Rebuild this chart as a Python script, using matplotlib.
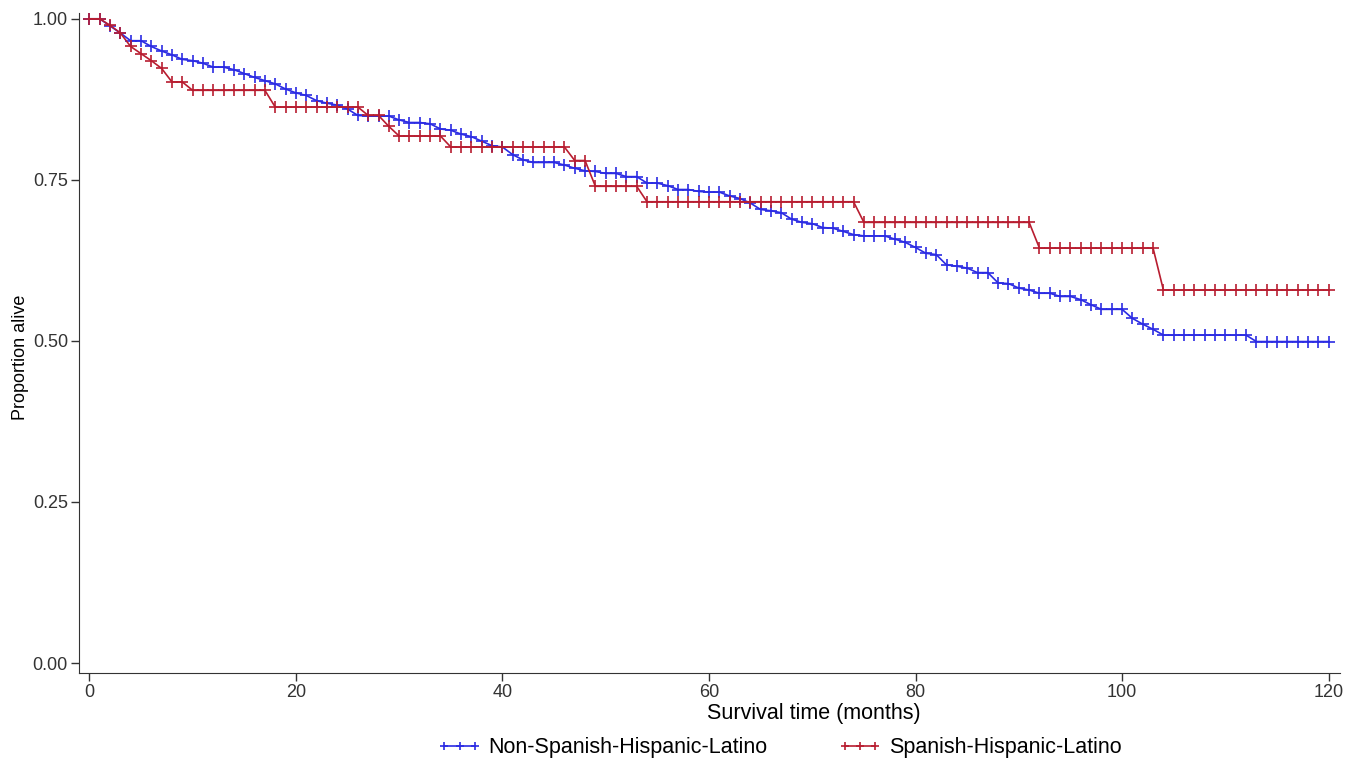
import matplotlib
matplotlib.use("Agg")
import matplotlib.pyplot as plt

plt.rcParams['font.family'] = ['Liberation Sans', 'DejaVu Sans']

# Monatswerte 0..120
monate = list(range(121))

nicht_hispanisch = [
    1.000, 1.000, 0.989, 0.978, 0.966, 0.966, 0.957, 0.950, 0.944, 0.937,
    0.935, 0.931, 0.925, 0.925, 0.921, 0.915, 0.909, 0.904, 0.899, 0.891,
    0.885, 0.881, 0.873, 0.869, 0.866, 0.860, 0.850, 0.849, 0.849, 0.849,
    0.843, 0.839, 0.839, 0.837, 0.829, 0.827, 0.821, 0.817, 0.810, 0.803,
    0.801, 0.789, 0.781, 0.777, 0.777, 0.777, 0.773, 0.768, 0.764, 0.763,
    0.760, 0.760, 0.755, 0.755, 0.745, 0.745, 0.741, 0.735, 0.735, 0.732,
    0.731, 0.731, 0.725, 0.721, 0.714, 0.704, 0.702, 0.699, 0.689, 0.684,
    0.682, 0.676, 0.675, 0.670, 0.665, 0.663, 0.663, 0.663, 0.658, 0.653,
    0.645, 0.636, 0.634, 0.618, 0.616, 0.613, 0.606, 0.606, 0.590, 0.589,
    0.582, 0.579, 0.574, 0.574, 0.569, 0.569, 0.564, 0.556, 0.549, 0.549,
    0.549, 0.535, 0.526, 0.518, 0.509, 0.509, 0.509, 0.509, 0.509, 0.509,
    0.509, 0.509, 0.509, 0.499, 0.499, 0.499, 0.499, 0.499, 0.499, 0.499,
    0.499,
]

hispanisch = [
    1.000, 1.000, 0.990, 0.978, 0.957, 0.946, 0.935, 0.923, 0.902, 0.902,
    0.889, 0.889, 0.889, 0.889, 0.889, 0.889, 0.889, 0.889, 0.863, 0.863,
    0.863, 0.863, 0.863, 0.863, 0.863, 0.863, 0.863, 0.850, 0.850, 0.833,
    0.818, 0.818, 0.818, 0.818, 0.818, 0.801, 0.801, 0.801, 0.801, 0.801,
    0.801, 0.801, 0.801, 0.801, 0.801, 0.801, 0.801, 0.780, 0.780, 0.740,
    0.740, 0.740, 0.740, 0.740, 0.716, 0.716, 0.716, 0.716, 0.716, 0.716,
    0.716, 0.716, 0.716, 0.716, 0.716, 0.716, 0.716, 0.716, 0.716, 0.716,
    0.716, 0.716, 0.716, 0.716, 0.716, 0.684, 0.684, 0.684, 0.684, 0.684,
    0.684, 0.684, 0.684, 0.684, 0.684, 0.684, 0.684, 0.684, 0.684, 0.684,
    0.684, 0.684, 0.644, 0.644, 0.644, 0.644, 0.644, 0.644, 0.644, 0.644,
    0.644, 0.644, 0.644, 0.644, 0.579, 0.579, 0.579, 0.579, 0.579, 0.579,
    0.579, 0.579, 0.579, 0.579, 0.579, 0.579, 0.579, 0.579, 0.579, 0.579,
    0.579,
]

x_ticks = [0, 20, 40, 60, 80, 100, 120]
y_ticks = [0.00, 0.25, 0.50, 0.75, 1.00]

fig = plt.figure(figsize=(13.57, 7.64), dpi=100)
ax = fig.add_axes([79 / 1357, 91 / 764, 1261 / 1357, 660 / 764])

blau = '#2b2be3'
rot = '#b81d30'

ax.plot(monate, nicht_hispanisch, color=blau, lw=1.2, marker='+', ms=8,
        mew=1.2, label='Non-Spanish-Hispanic-Latino')
ax.plot(monate, hispanisch, color=rot, lw=1.2, marker='+', ms=8,
        mew=1.2, label='Spanish-Hispanic-Latino')

ax.set_xlim(-1, 121.1)
ax.set_ylim(-0.0155, 1.009)
ax.set_xticks(x_ticks)
ax.set_yticks(y_ticks)
ax.set_yticklabels(['{:.2f}'.format(v) for v in y_ticks])
ax.tick_params(direction='out', length=6, width=1, labelsize=13,
               labelcolor='#333333', color='#333333', pad=2)

for s in ['top', 'right']:
    ax.spines[s].set_visible(False)
for s in ['left', 'bottom']:
    ax.spines[s].set_color('#333333')

ax.set_xlabel('Survival time (months)', fontsize=15.5)
ax.xaxis.set_label_coords(0.583, -0.046)
ax.set_ylabel('Proportion alive', fontsize=13)
ax.yaxis.set_label_coords(-0.040, 0.479)

fig.legend(loc='center', bbox_to_anchor=(780 / 1357, 1 - 748 / 764), ncol=2,
           frameon=False, fontsize=15.5, numpoints=3, handlelength=2.0,
           handletextpad=0.35, columnspacing=3.3, markerscale=0.7)

plt.savefig("out.png", dpi=100)
